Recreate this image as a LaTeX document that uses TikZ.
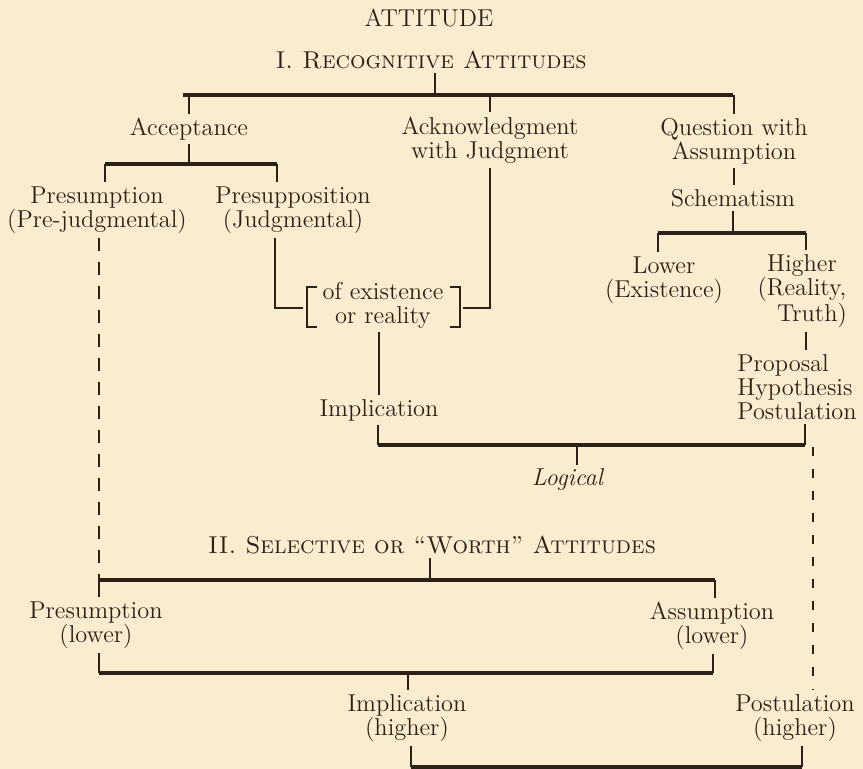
\documentclass[tikz,border=0pt]{standalone}
\usepackage{xcolor}
\usepackage{tikz}

\definecolor{paper}{RGB}{250,237,207}
\definecolor{ink}{RGB}{43,33,24}

\begin{document}
\begin{tikzpicture}[x=0.5pt, y=-0.5pt,
        lbl/.style={align=center, inner sep=2pt, text=ink, font=\fontsize{12.2}{12}\selectfont},
        barline/.style={draw=ink, line width=1.6pt},
        tickline/.style={draw=ink, line width=1.1pt},
        dashleft/.style={draw=ink, line width=1pt, dash pattern=on 6.5pt off 5.5pt},
        dashright/.style={draw=ink, line width=0.8pt, dash pattern=on 4.5pt off 6.5pt}]

        % Paper
        \fill[paper] (0,0) rectangle (863,769);
        \useasboundingbox (0,0) rectangle (863,769);

        % Headings
        \node[lbl] (title) at (429,18) {ATTITUDE};
        \node[lbl] (recog) at (431,60) {\textsc{I. Recognitive Attitudes}};
        \node[lbl] (select) at (432,545) {\textsc{II. Selective or ``Worth'' Attitudes}};

        % Recognitive attitudes
        \node[lbl] (accept) at (189,129) {Acceptance};
        \node[lbl] (ackn) at (490,140) {Acknowledgment\\with Judgment};
        \node[lbl] (quest) at (734,141) {Question with\\Assumption};
        \node[lbl] (presum) at (97,210) {Presumption\\(Pre-judgmental)};
        \node[lbl] (presup) at (293,210) {Presupposition\\(Judgmental)};
        \node[lbl] (schem) at (733,198) {Schematism};
        \node[lbl] (lower) at (664,280) {Lower\\(Existence)};
        \node[lbl] (higher) at (802,291) {Higher\\(Reality,\\\hspace*{10pt}Truth)};
        \node[lbl] (exist) at (383,305) {of existence\\or reality};
        \node[lbl] (implic) at (379,410) {Implication};
        \node[lbl, align=left, anchor=west] (prop) at (733,387) {Proposal\\Hypothesis\\Postulation};
        \node[lbl] (logical) at (568,480) {\textit{Logical}};

        % Selective attitudes
        \node[lbl] (presum2) at (96,625) {Presumption\\(lower)};
        \node[lbl] (assum2) at (712,626) {Assumption\\(lower)};
        \node[lbl] (implic2) at (407,718) {Implication\\(higher)};
        \node[lbl] (postul2) at (795,718) {Postulation\\(higher)};

        % Bar ends
        \coordinate (A0) at (435,95);
        \coordinate (A1) at (183,95);
        \coordinate (A2) at (733,95);
        \coordinate (B1) at (105,164);
        \coordinate (B2) at (277,164);
        \coordinate (C1) at (658,233);
        \coordinate (C2) at (806,233);
        \coordinate (D1) at (378,445);
        \coordinate (D2) at (805,445);
        \coordinate (D3) at (577,445);
        \coordinate (E0) at (430,580);
        \coordinate (E1) at (99,580);
        \coordinate (E2) at (715,580);
        \coordinate (F0) at (408,673);
        \coordinate (F1) at (99,673);
        \coordinate (F2) at (713,673);
        \coordinate (G1) at (411,767);
        \coordinate (G2) at (802,767);
        \coordinate (R1) at (813,447);

        % Bars
        \foreach \a/\b in {A1/A2, B1/B2, C1/C2, D1/D2, E1/E2, F1/F2, G1/G2}
            \draw[barline] (\a) -- (\b);

        % Top level
        \draw[tickline] (recog.south -| A0) -- (A0);
        \foreach \n in {accept, ackn, quest}
            \draw[tickline] (\n.north |- A1) -- (\n.north);

        % Acceptance
        \draw[tickline] (accept.south) -- (accept.south |- B1);
        \draw[tickline] (B1) -- (B1 |- presum.north);
        \draw[tickline] (B2) -- (B2 |- presup.north);

        % Question with assumption
        \draw[tickline] (quest.south) -- (quest.south |- schem.north);
        \draw[tickline] (schem.south) -- (schem.south |- C1);
        \draw[tickline] (C1) -- (C1 |- lower.north);
        \draw[tickline] (C2) -- (C2 |- higher.north);
        \draw[tickline] (higher.south -| C2) -- (prop.north -| C2);

        % Bracket of existence or reality
        \draw[ink, line width=0.9pt] ([shift={(-66,-18)}]exist.center) -- ++(-10,0) -- ++(0,40) -- ++(10,0);
        \draw[ink, line width=0.9pt] ([shift={(67,-18)}]exist.center) -- ++(10,0) -- ++(0,40) -- ++(-10,0);
        \draw[tickline] ([shift={(-18,0)}]presup.south) |- ([shift={(-80,3)}]exist.center);
        \draw[tickline] (ackn.south) |- ([shift={(80,3)}]exist.center);
        \draw[tickline] (exist.south -| implic.north) -- (implic.north);

        % Logical
        \draw[tickline] (D1 |- implic.south) -- (D1);
        \draw[tickline] (D2 |- prop.south) -- (D2);
        \draw[tickline] (D3) -- (D3 |- logical.north);

        % Selective attitudes
        \draw[dashleft] (presum.south -| E1) -- (E1);
        \draw[dashright] (R1) -- (R1 |- postul2.north);
        \draw[tickline] (select.south -| E0) -- (E0);
        \draw[tickline] (E1) -- (E1 |- presum2.north);
        \draw[tickline] (E2) -- (E2 |- assum2.north);
        \draw[tickline] (F1 |- presum2.south) -- (F1);
        \draw[tickline] (F2 |- assum2.south) -- (F2);
        \draw[tickline] (F0) -- (F0 |- implic2.north);
        \draw[tickline] (G1 |- implic2.south) -- (G1);
        \draw[tickline] (G2 |- postul2.south) -- (G2);
    \end{tikzpicture}
\end{document}
